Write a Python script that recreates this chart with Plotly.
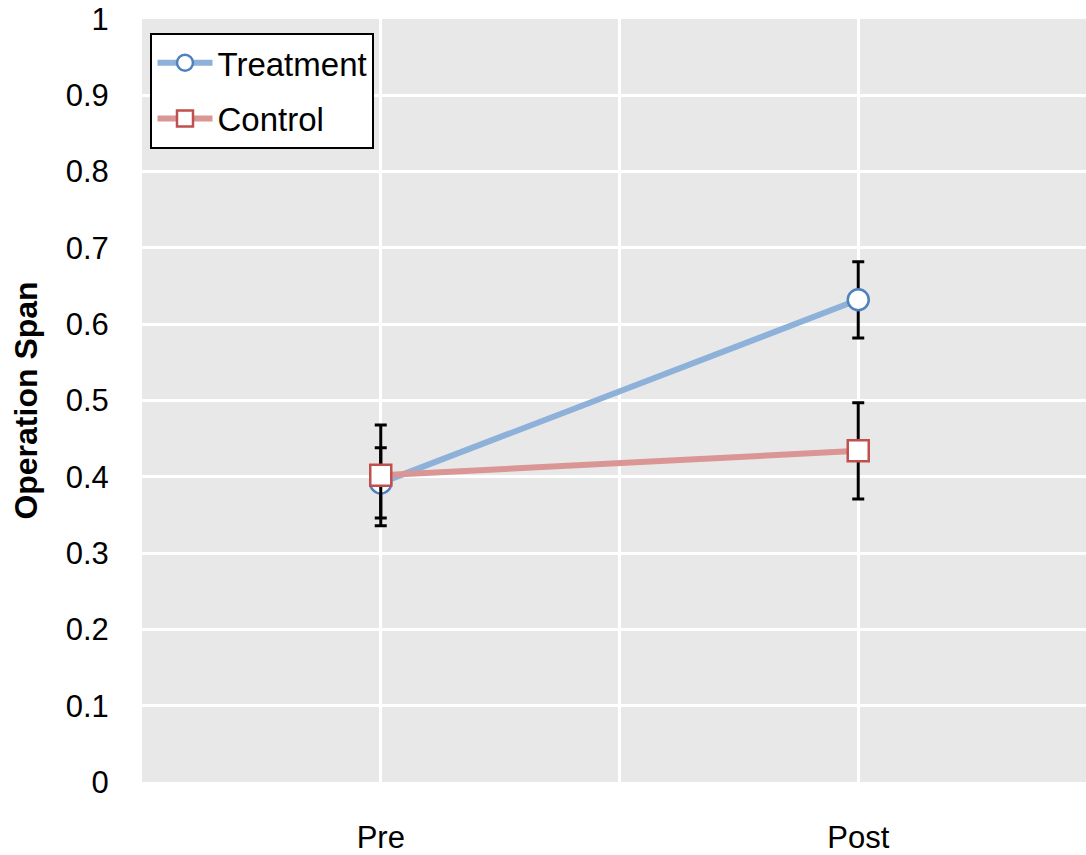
import plotly.graph_objects as go

categories = ["Pre", "Post"]
x_pos = [0, 1]
treatment = [0.392, 0.632]
treatment_err = [0.046, 0.050]
control = [0.402, 0.434]
control_err = [0.066, 0.063]
y_ticks = [0, 0.1, 0.2, 0.3, 0.4, 0.5, 0.6, 0.7, 0.8, 0.9, 1]
y_ticktext = ["0", "0.1", "0.2", "0.3", "0.4", "0.5", "0.6", "0.7", "0.8", "0.9", "1"]

FONT = "Liberation Sans, Arial, sans-serif"

fig = go.Figure()
fig.add_trace(go.Scatter(
    x=x_pos, y=treatment, name="Treatment", mode="lines+markers",
    legendgroup="t",
    line=dict(color="#8db1d9", width=6),
    marker=dict(symbol="circle", size=21, color="white",
                line=dict(color="#4f81bd", width=2.5)),
    error_y=dict(type="data", array=treatment_err, color="black", thickness=3, width=6),
))
fig.add_trace(go.Scatter(
    x=x_pos, y=control, name="Control", mode="lines+markers",
    legendgroup="c",
    line=dict(color="#da9694", width=6),
    marker=dict(symbol="square", size=21, color="white",
                line=dict(color="#c0504d", width=2.5)),
    error_y=dict(type="data", array=control_err, color="black", thickness=3, width=6),
))

fig.update_layout(
    width=1086, height=855,
    margin=dict(l=142, r=0, t=19, b=73),
    paper_bgcolor="white", plot_bgcolor="#e8e8e8",
    font=dict(family=FONT, size=31, color="black"),
    showlegend=True,
    legend=dict(x=0.009, y=0.982, xanchor="left", yanchor="top",
                bgcolor="white", bordercolor="black", borderwidth=2,
                font=dict(size=33), tracegroupgap=10, itemwidth=55),
    xaxis=dict(range=[-0.5, 1.477], tickvals=[0, 0.5, 1],
               ticktext=[categories[0], "", categories[1]],
               showgrid=True, gridcolor="white", gridwidth=3,
               zeroline=False, showline=False,
               ticks="outside", ticklen=28, tickcolor="rgba(0,0,0,0)"),
    yaxis=dict(range=[0, 1], tickvals=y_ticks, ticktext=y_ticktext,
               showgrid=True, gridcolor="white", gridwidth=3,
               zeroline=False, showline=False,
               ticks="outside", ticklen=26, tickcolor="rgba(0,0,0,0)",
               title=dict(text="<b>Operation Span</b>", font=dict(size=32), standoff=18)),
)

fig.write_html("out.html")
